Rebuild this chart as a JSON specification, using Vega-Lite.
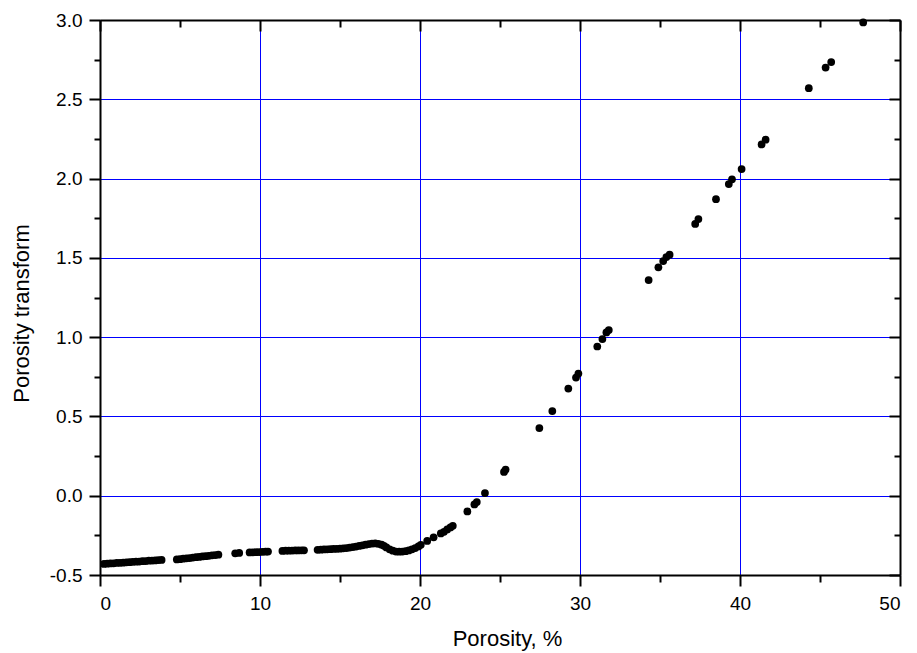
{
  "$schema": "https://vega.github.io/schema/vega-lite/v6.json",
  "width": 800,
  "height": 555,
  "autosize": {"type": "none"},
  "padding": {"left": 100, "top": 20, "right": 17, "bottom": 78},
  "background": "white",
  "config": {"view": {"stroke": null}, "font": "Liberation Sans"},
  "data": {"values": [
    {"porosity": 0.25, "transform": -0.430}, {"porosity": 0.45, "transform": -0.429}, {"porosity": 0.65, "transform": -0.427},
    {"porosity": 0.85, "transform": -0.426}, {"porosity": 1.05, "transform": -0.424}, {"porosity": 1.25, "transform": -0.423},
    {"porosity": 1.45, "transform": -0.422}, {"porosity": 1.65, "transform": -0.420}, {"porosity": 1.85, "transform": -0.419},
    {"porosity": 2.05, "transform": -0.417}, {"porosity": 2.25, "transform": -0.416}, {"porosity": 2.45, "transform": -0.415},
    {"porosity": 2.65, "transform": -0.413}, {"porosity": 2.85, "transform": -0.412}, {"porosity": 3.05, "transform": -0.410},
    {"porosity": 3.25, "transform": -0.409}, {"porosity": 3.45, "transform": -0.408}, {"porosity": 3.65, "transform": -0.406},
    {"porosity": 3.85, "transform": -0.405},
    {"porosity": 4.8, "transform": -0.402}, {"porosity": 5.0, "transform": -0.400}, {"porosity": 5.2, "transform": -0.397},
    {"porosity": 5.4, "transform": -0.395}, {"porosity": 5.6, "transform": -0.393}, {"porosity": 5.8, "transform": -0.390},
    {"porosity": 6.0, "transform": -0.388}, {"porosity": 6.2, "transform": -0.386}, {"porosity": 6.4, "transform": -0.383},
    {"porosity": 6.6, "transform": -0.381}, {"porosity": 6.8, "transform": -0.379}, {"porosity": 7.0, "transform": -0.376},
    {"porosity": 7.2, "transform": -0.374}, {"porosity": 7.4, "transform": -0.372},
    {"porosity": 8.45, "transform": -0.363}, {"porosity": 8.7, "transform": -0.361},
    {"porosity": 9.35, "transform": -0.358}, {"porosity": 9.55, "transform": -0.357}, {"porosity": 9.75, "transform": -0.356},
    {"porosity": 9.95, "transform": -0.355}, {"porosity": 10.15, "transform": -0.354}, {"porosity": 10.35, "transform": -0.353},
    {"porosity": 10.5, "transform": -0.352},
    {"porosity": 11.4, "transform": -0.348}, {"porosity": 11.6, "transform": -0.347}, {"porosity": 11.8, "transform": -0.347},
    {"porosity": 12.0, "transform": -0.346}, {"porosity": 12.2, "transform": -0.345}, {"porosity": 12.4, "transform": -0.345},
    {"porosity": 12.6, "transform": -0.344}, {"porosity": 12.75, "transform": -0.344},
    {"porosity": 13.6, "transform": -0.341}, {"porosity": 13.8, "transform": -0.340}, {"porosity": 14.0, "transform": -0.339},
    {"porosity": 14.2, "transform": -0.338}, {"porosity": 14.4, "transform": -0.337}, {"porosity": 14.6, "transform": -0.336},
    {"porosity": 14.8, "transform": -0.335}, {"porosity": 15.0, "transform": -0.334}, {"porosity": 15.2, "transform": -0.332},
    {"porosity": 15.4, "transform": -0.330}, {"porosity": 15.6, "transform": -0.327}, {"porosity": 15.8, "transform": -0.324},
    {"porosity": 16.0, "transform": -0.321}, {"porosity": 16.2, "transform": -0.317}, {"porosity": 16.4, "transform": -0.313},
    {"porosity": 16.6, "transform": -0.309}, {"porosity": 16.8, "transform": -0.305}, {"porosity": 17.0, "transform": -0.302},
    {"porosity": 17.2, "transform": -0.301}, {"porosity": 17.4, "transform": -0.303}, {"porosity": 17.6, "transform": -0.309},
    {"porosity": 17.75, "transform": -0.316}, {"porosity": 17.9, "transform": -0.326}, {"porosity": 18.1, "transform": -0.338},
    {"porosity": 18.3, "transform": -0.347}, {"porosity": 18.5, "transform": -0.352}, {"porosity": 18.7, "transform": -0.353},
    {"porosity": 18.9, "transform": -0.352}, {"porosity": 19.1, "transform": -0.350}, {"porosity": 19.3, "transform": -0.345},
    {"porosity": 19.5, "transform": -0.338}, {"porosity": 19.7, "transform": -0.330}, {"porosity": 19.9, "transform": -0.320},
    {"porosity": 20.05, "transform": -0.310},
    {"porosity": 20.45, "transform": -0.285}, {"porosity": 20.85, "transform": -0.262},
    {"porosity": 21.3, "transform": -0.238}, {"porosity": 21.5, "transform": -0.228}, {"porosity": 21.7, "transform": -0.213},
    {"porosity": 21.9, "transform": -0.200}, {"porosity": 22.05, "transform": -0.190},
    {"porosity": 22.96, "transform": -0.099}, {"porosity": 23.4, "transform": -0.055}, {"porosity": 23.55, "transform": -0.040},
    {"porosity": 24.06, "transform": 0.017}, {"porosity": 25.25, "transform": 0.150}, {"porosity": 25.35, "transform": 0.165},
    {"porosity": 27.46, "transform": 0.427}, {"porosity": 28.27, "transform": 0.534}, {"porosity": 29.27, "transform": 0.676},
    {"porosity": 29.75, "transform": 0.745}, {"porosity": 29.9, "transform": 0.770},
    {"porosity": 31.08, "transform": 0.941}, {"porosity": 31.4, "transform": 0.988}, {"porosity": 31.65, "transform": 1.030},
    {"porosity": 31.8, "transform": 1.045},
    {"porosity": 34.29, "transform": 1.360}, {"porosity": 34.9, "transform": 1.440}, {"porosity": 35.2, "transform": 1.480},
    {"porosity": 35.4, "transform": 1.505}, {"porosity": 35.6, "transform": 1.520},
    {"porosity": 37.2, "transform": 1.714}, {"porosity": 37.4, "transform": 1.745}, {"porosity": 38.5, "transform": 1.870},
    {"porosity": 39.3, "transform": 1.965}, {"porosity": 39.5, "transform": 1.995}, {"porosity": 40.1, "transform": 2.060},
    {"porosity": 41.35, "transform": 2.215}, {"porosity": 41.6, "transform": 2.245},
    {"porosity": 44.3, "transform": 2.570}, {"porosity": 45.35, "transform": 2.700}, {"porosity": 45.7, "transform": 2.735},
    {"porosity": 47.7, "transform": 2.985}
  ]},
  "layer": [
    {
      "mark": {"type": "point", "filled": true, "color": "black", "size": 60, "opacity": 1},
      "encoding": {
        "x": {
          "field": "porosity", "type": "quantitative",
          "scale": {"domain": [0, 50], "nice": false, "zero": false},
          "axis": {
            "orient": "bottom",
            "values": [0, 5, 10, 15, 20, 25, 30, 35, 40, 45, 50],
            "labelExpr": "datum.value % 10 === 0 ? datum.label : ''",
            "tickSize": {"condition": {"test": "datum.value % 10 !== 0", "value": 7}, "value": 11},
            "grid": true,
            "gridColor": "#0000ff",
            "gridWidth": 1,
            "gridOpacity": {"condition": {"test": "datum.value % 10 !== 0", "value": 0}, "value": 1},
            "domainColor": "black", "domainWidth": 2,
            "tickColor": "black", "tickWidth": 2,
            "labelFontSize": 19, "labelColor": "black", "labelPadding": 8, "labelFont": "Liberation Sans",
            "title": "Porosity, %", "titleFontSize": 22, "titleFontWeight": "normal", "titleColor": "black",
            "titleFont": "Liberation Sans",
            "titleX": 407, "titleY": 70, "titleBaseline": "alphabetic"
          }
        },
        "y": {
          "field": "transform", "type": "quantitative",
          "scale": {"domain": [-0.5, 3.0], "nice": false, "zero": false},
          "axis": {
            "orient": "left",
            "values": [-0.5, -0.25, 0, 0.25, 0.5, 0.75, 1.0, 1.25, 1.5, 1.75, 2.0, 2.25, 2.5, 2.75, 3.0],
            "labelExpr": "abs(datum.value*2 - round(datum.value*2)) > 0.01 ? '' : (datum.value < 0 ? '-' + format(-datum.value, '.1f') : format(datum.value, '.1f'))",
            "tickSize": {"condition": {"test": "abs(datum.value*2 - round(datum.value*2)) > 0.01", "value": 6}, "value": 11},
            "grid": true,
            "gridColor": "#0000ff",
            "gridWidth": 1,
            "gridOpacity": {"condition": {"test": "abs(datum.value*2 - round(datum.value*2)) > 0.01", "value": 0}, "value": 1},
            "domainColor": "black", "domainWidth": 2,
            "tickColor": "black", "tickWidth": 2,
            "labelFontSize": 19, "labelColor": "black", "labelPadding": 7, "labelFont": "Liberation Sans",
            "title": "Porosity transform", "titleFontSize": 22, "titleFontWeight": "normal", "titleColor": "black",
            "titleFont": "Liberation Sans",
            "titleX": -72, "titleY": 293, "titleBaseline": "alphabetic", "titleAngle": -90, "titleAlign": "center"
          }
        }
      }
    },
    {
      "mark": {"type": "point", "opacity": 0},
      "encoding": {
        "x": {
          "field": "porosity", "type": "quantitative",
          "axis": {
            "orient": "top",
            "values": [0, 5, 10, 15, 20, 25, 30, 35, 40, 45, 50],
            "labels": false, "title": null, "grid": false,
            "tickSize": {"condition": {"test": "datum.value % 10 !== 0", "value": -7}, "value": -11},
            "domainColor": "black", "domainWidth": 2,
            "tickColor": "black", "tickWidth": 2
          }
        },
        "y": {
          "field": "transform", "type": "quantitative",
          "axis": {
            "orient": "right",
            "values": [-0.5, -0.25, 0, 0.25, 0.5, 0.75, 1.0, 1.25, 1.5, 1.75, 2.0, 2.25, 2.5, 2.75, 3.0],
            "labels": false, "title": null, "grid": false,
            "tickSize": {"condition": {"test": "abs(datum.value*2 - round(datum.value*2)) > 0.01", "value": -6}, "value": -11},
            "domainColor": "black", "domainWidth": 2,
            "tickColor": "black", "tickWidth": 2
          }
        }
      }
    }
  ],
  "resolve": {"axis": {"x": "independent", "y": "independent"}}
}
